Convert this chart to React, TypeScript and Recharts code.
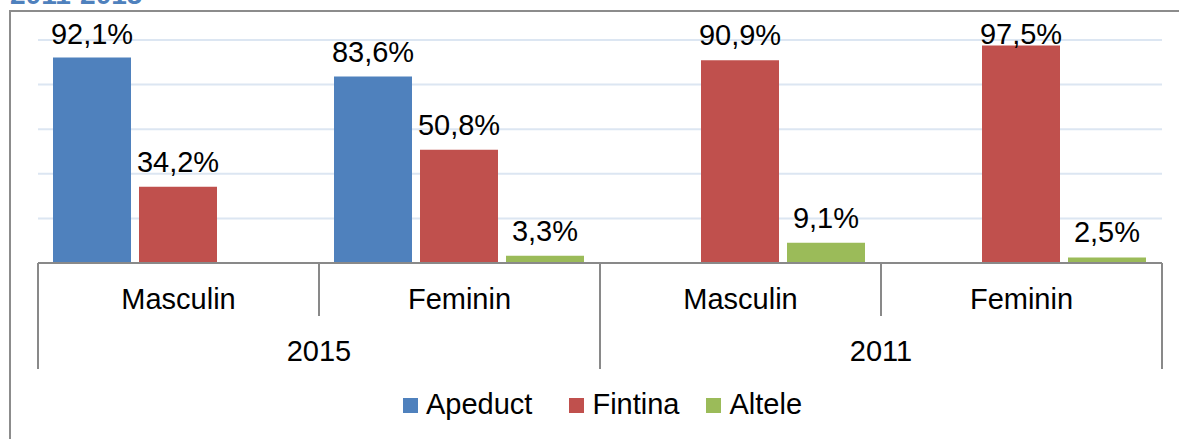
import React from 'react';
import { BarChart, Bar, XAxis, YAxis, CartesianGrid, LabelList, Legend } from 'recharts';

const genders = ['Masculin', 'Feminin', 'Masculin', 'Feminin'];
const years = ['2015', '2015', '2011', '2011'];
const apeduct: (number | null)[] = [92.1, 83.6, null, null];
const fintina: (number | null)[] = [34.2, 50.8, 90.9, 97.5];
const altele: (number | null)[] = [null, 3.3, 9.1, 2.5];
const seriesNames = ['Apeduct', 'Fintina', 'Altele'];
const seriesColors = ['#4F81BD', '#C0504D', '#9BBB59'];
const yTicks = [0, 20, 40, 60, 80, 100];

const data = genders.map((g, i) => ({
  key: `${g}-${years[i]}`,
  gender: g,
  year: years[i],
  Apeduct: apeduct[i],
  Fintina: fintina[i],
  Altele: altele[i],
}));

const W = 1179;
const H = 439;
const M = { top: 40, right: 17, left: 38, bottom: 66 };
const BAND = (W - M.left - M.right) / genders.length;
const FONT = '"Liberation Sans", Arial, sans-serif';
const FS = 29;
const AXIS_COLOR = '#898989';

const fmt = (v: any) => (v == null ? '' : `${Number(v).toFixed(1).replace('.', ',')}%`);

const ValueLabel = (props: any) => {
  const { x, y, width, value } = props;
  if (value == null || value === '') return null;
  const baseline = Math.max(Number(y) - 15, 43.5);
  return (
    <text x={Number(x) + Number(width) / 2} y={baseline} textAnchor="middle" fontFamily={FONT} fontSize={FS} fill="#000">
      {fmt(value)}
    </text>
  );
};

const CategoryTick = (props: any) => {
  const { x, y, payload } = props;
  const i = payload.index;
  const half = BAND / 2;
  const startsGroup = i === 0 || years[i] !== years[i - 1];
  const endsAll = i === genders.length - 1;
  return (
    <g>
      <line x1={x - half} x2={x - half} y1={y} y2={y + (startsGroup ? 106 : 53)} stroke={AXIS_COLOR} strokeWidth={2} />
      {endsAll && (
        <line x1={x + half} x2={x + half} y1={y} y2={y + 106} stroke={AXIS_COLOR} strokeWidth={2} />
      )}
      <text x={x} y={y + 46} textAnchor="middle" fontFamily={FONT} fontSize={FS} fill="#000">
        {genders[i]}
      </text>
      {startsGroup && (
        <text x={x + half} y={y + 98} textAnchor="middle" fontFamily={FONT} fontSize={FS} fill="#000">
          {years[i]}
        </text>
      )}
    </g>
  );
};

const LegendContent = () => {
  const gaps = [37, 27, 0];
  return (
    <div style={{ display: 'flex', paddingLeft: 403, fontFamily: FONT, fontSize: FS, lineHeight: '32px', color: '#000' }}>
      {seriesNames.map((name, idx) => (
        <div key={name} style={{ display: 'flex', alignItems: 'flex-start', marginRight: gaps[idx] }}>
          <div style={{ width: 15, height: 15, background: seriesColors[idx], marginTop: 10, marginRight: 8 }} />
          <span>{name}</span>
        </div>
      ))}
    </div>
  );
};

export default function App() {
  return (
    <div style={{ position: 'absolute', left: 0, top: 0, width: W, height: H, overflow: 'hidden', background: '#fff' }}>
      <div
        style={{
          position: 'absolute',
          left: 10,
          top: -19,
          fontFamily: FONT,
          fontWeight: 'bold',
          fontSize: 28,
          lineHeight: '28px',
          color: '#4F81BD',
          whiteSpace: 'nowrap',
        }}
      >
        2011-2015
      </div>
      <div
        style={{
          position: 'absolute',
          left: 9,
          top: 10,
          width: 1200,
          height: 500,
          border: '2px solid #8c8c8c',
          boxSizing: 'border-box',
        }}
      />
      <div style={{ position: 'absolute', left: 0, top: 0 }}>
        <BarChart width={W} height={H} data={data} margin={M} barCategoryGap={15} barGap={8}>
          <CartesianGrid vertical={false} stroke="#dce6f2" strokeWidth={2} />
          <YAxis hide domain={[0, 100]} ticks={yTicks} />
          <XAxis
            dataKey="key"
            height={110}
            tickSize={0}
            tickMargin={0}
            tickLine={false}
            axisLine={{ stroke: AXIS_COLOR, strokeWidth: 2 }}
            tick={<CategoryTick />}
            interval={0}
          />
          <Legend
            verticalAlign="middle"
            align="center"
            layout="horizontal"
            wrapperStyle={{ top: 388, left: 0, width: W }}
            content={<LegendContent />}
          />
          {seriesNames.map((name, idx) => (
            <Bar key={name} dataKey={name} name={name} fill={seriesColors[idx]} isAnimationActive={false}>
              <LabelList dataKey={name} content={<ValueLabel />} />
            </Bar>
          ))}
        </BarChart>
      </div>
    </div>
  );
}
